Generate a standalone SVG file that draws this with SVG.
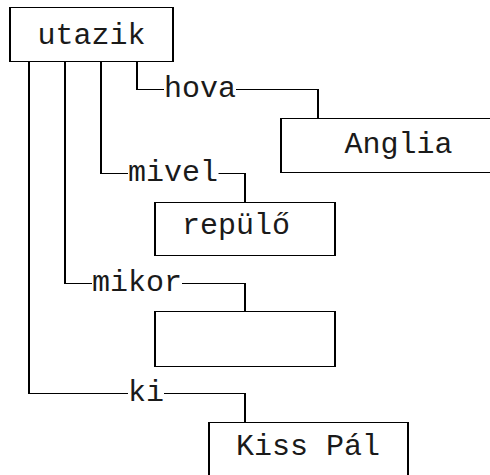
<svg xmlns="http://www.w3.org/2000/svg" width="490" height="475" viewBox="0 0 490 475">
<style>
  text { font-family: "Liberation Mono", "Courier New", monospace; font-size: 30px; fill: #1a1a1a; }
  .h { fill: none; stroke: #000; stroke-width: 1; }
  .v { fill: none; stroke: #000; stroke-width: 2; }
  .c { fill: none; stroke: #000; stroke-width: 1; }
  .cv { fill: none; stroke: #000; stroke-width: 2; }
</style>
<rect width="490" height="475" fill="#fff"/>
<g id="connectors">
  <!-- verticals from utazik -->
  <path class="cv" d="M137 61.5 V89.5"/>
  <path class="cv" d="M101 61.5 V173.5"/>
  <path class="cv" d="M65 61.5 V283.5"/>
  <path class="cv" d="M29 61.5 V393.5"/>
  <!-- hova -->
  <path class="c" d="M136 89.5 H164 M236 89.5 H318"/>
  <path class="cv" d="M318 89 V118.5"/>
  <text x="164" y="97">hova</text>
  <!-- mivel -->
  <path class="c" d="M100 173.5 H128 M218.5 173.5 H245"/>
  <path class="cv" d="M245 173 V202.5"/>
  <text x="128" y="181">mivel</text>
  <!-- mikor -->
  <path class="c" d="M64 283.5 H92 M182 283.5 H245"/>
  <path class="cv" d="M245 283 V311.5"/>
  <text x="92" y="291">mikor</text>
  <!-- ki -->
  <path class="c" d="M28 393.5 H128 M164 393.5 H245"/>
  <path class="cv" d="M245 393 V422.5"/>
  <text x="128" y="401">ki</text>
</g>
<g id="node-utazik">
  <path class="h" d="M9 7.5 H174 M9 61.5 H174"/>
  <path class="v" d="M10 7 V62 M173 7 V62"/>
  <text x="37.6" y="44">utazik</text>
</g>
<g id="node-anglia">
  <path class="h" d="M280 118.5 H495 M280 172.5 H495"/>
  <path class="v" d="M281 118 V173"/>
  <text x="344.5" y="153">Anglia</text>
</g>
<g id="node-repulo">
  <path class="h" d="M154 202.5 H336 M154 255.5 H336"/>
  <path class="v" d="M155 202 V256 M335 202 V256"/>
  <text x="182" y="234">repülő</text>
</g>
<g id="node-empty">
  <path class="h" d="M154 311.5 H336 M154 366.5 H336"/>
  <path class="v" d="M155 311 V367 M335 311 V367"/>
</g>
<g id="node-kisspal">
  <path class="h" d="M208 422.5 H409"/>
  <path class="v" d="M209 422 V480 M408 422 V480"/>
  <text x="236" y="455">Kiss Pál</text>
</g>
</svg>
